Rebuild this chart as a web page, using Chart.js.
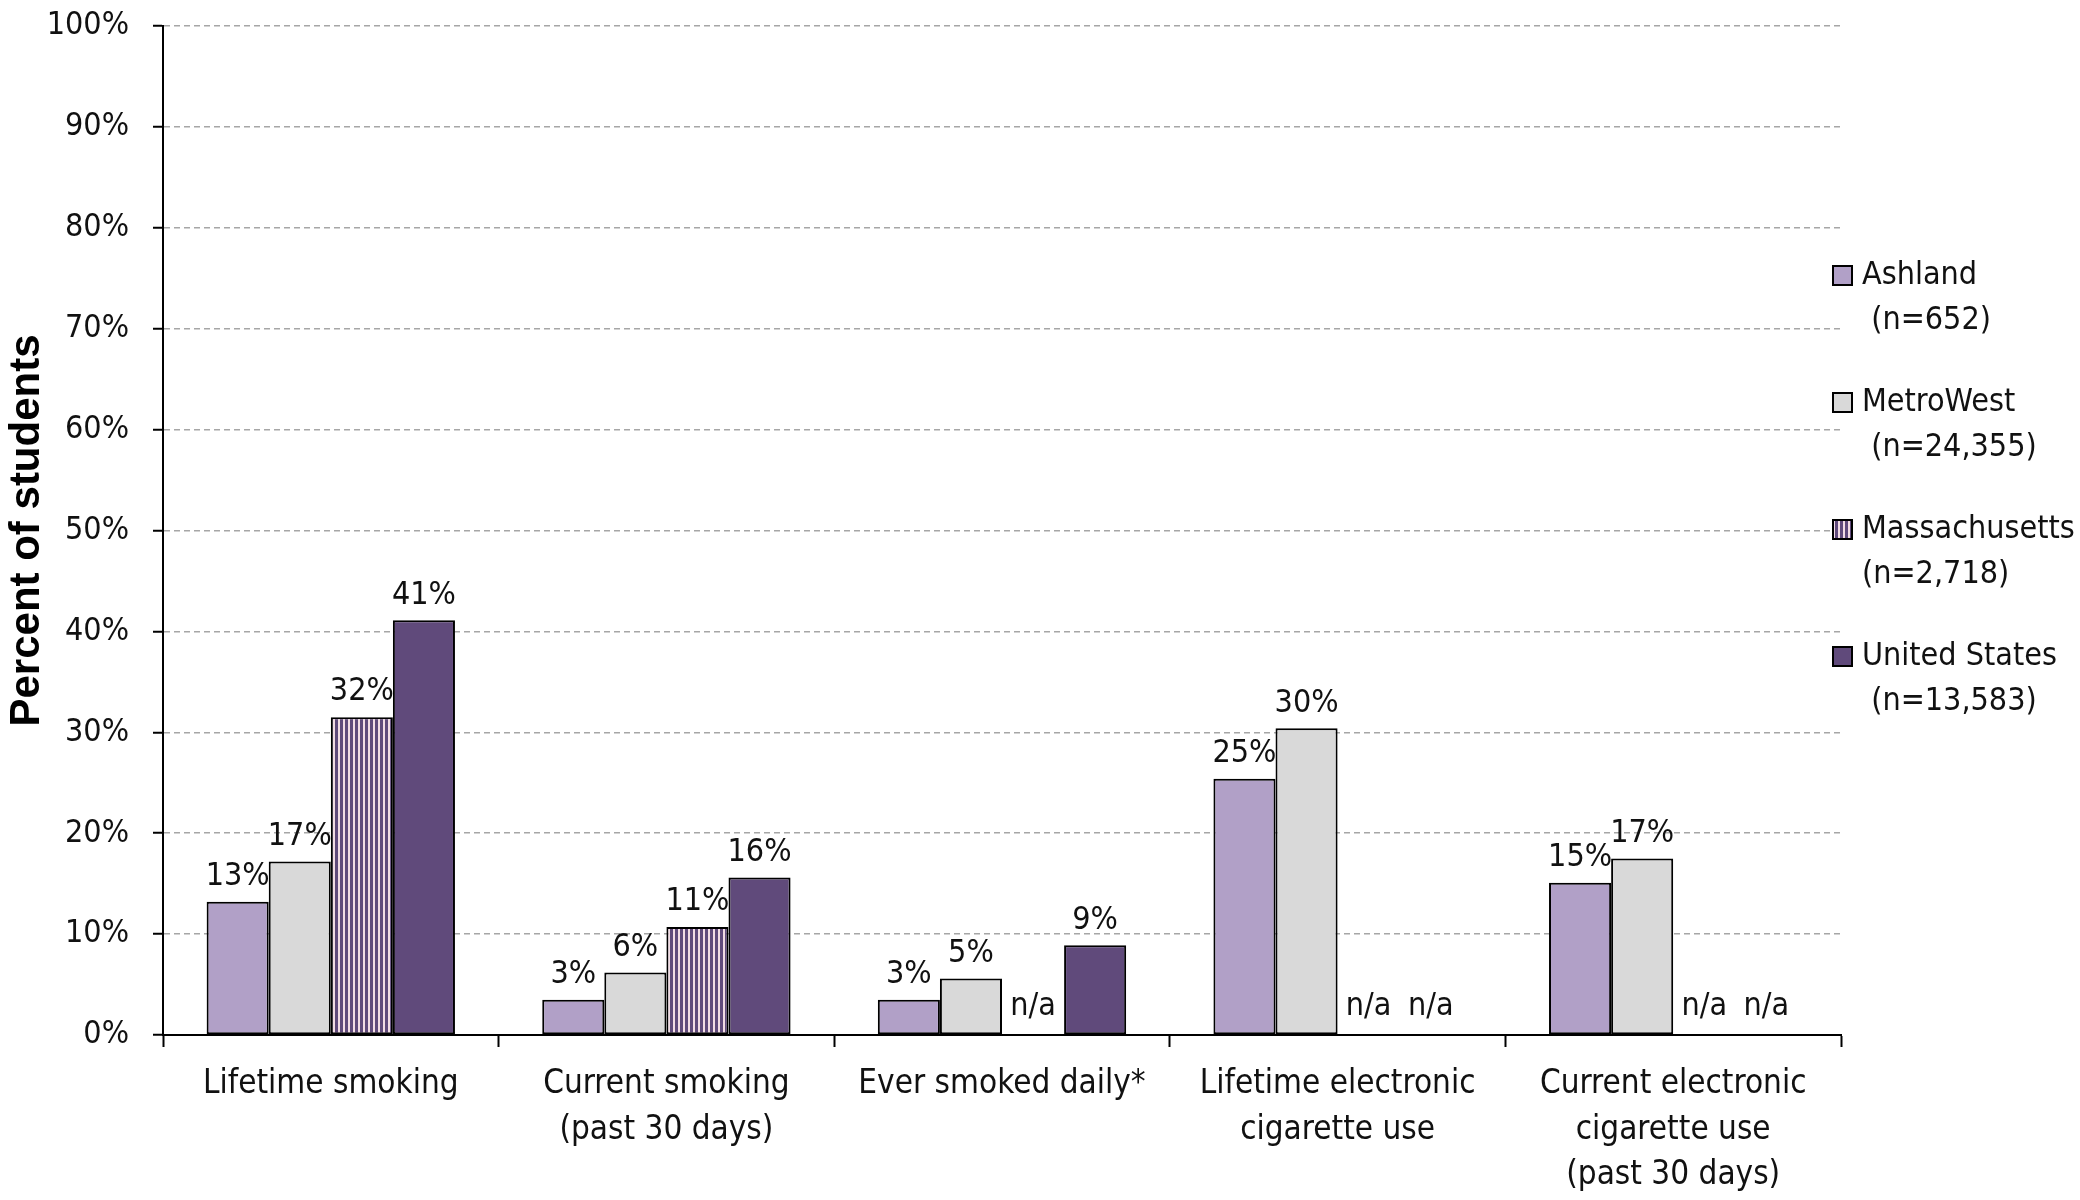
<!DOCTYPE html>
<html>
<head>
<meta charset="utf-8">
<script src="https://cdn.jsdelivr.net/npm/chart.js@4.4.0/dist/chart.umd.min.js"></script>
<style>
  html, body { margin: 0; padding: 0; background: #fff; }
  #wrap { width: 2080px; height: 1200px; }
</style>
</head>
<body>
<div id="wrap"><canvas id="chart" width="2080" height="1200"></canvas></div>
<script>
const categories = [
    ["Lifetime smoking"],
    ["Current smoking", "(past 30 days)"],
    ["Ever smoked daily*"],
    ["Lifetime electronic", "cigarette use"],
    ["Current electronic", "cigarette use", "(past 30 days)"]
];
const seriesNames = ["Ashland", "MetroWest", "Massachusetts", "United States"];
const seriesNotes = [" (n=652)", " (n=24,355)", "(n=2,718)", " (n=13,583)"];

// null = n/a
const ashland       = [13.2, 3.5, 3.5, 25.4, 15.1];
const metroWest     = [17.2, 6.2, 5.6, 30.4, 17.5];
const massachusetts = [31.5, 10.7, null, null, null];
const unitedStates  = [41.1, 15.6, 8.9, null, null];

const ashlandLabels       = ["13%", "3%", "3%", "25%", "15%"];
const metroWestLabels     = ["17%", "6%", "5%", "30%", "17%"];
const massachusettsLabels = ["32%", "11%", "n/a", "n/a", "n/a"];
const unitedStatesLabels  = ["41%", "16%", "9%", "n/a", "n/a"];

const yTicks = [0, 10, 20, 30, 40, 50, 60, 70, 80, 90, 100];

const FONT = "'Liberation Sans Narrow', 'Arial Narrow', 'DejaVu Sans Condensed', sans-serif";

function stripePattern() {
    const c = document.createElement("canvas");
    c.width = 5; c.height = 10;
    const g = c.getContext("2d");
    g.fillStyle = "#F2DCE4";
    g.fillRect(0, 0, 5, 10);
    g.fillStyle = "#604A7B";
    g.fillRect(0, 0, 3, 10);
    return g.createPattern(c, "repeat");
}
const stripes = stripePattern();
const colors = ["#B1A0C7", "#D9D9D9", stripes, "#604A7B"];
const allValues = [ashland, metroWest, massachusetts, unitedStates];
const allLabels = [ashlandLabels, metroWestLabels, massachusettsLabels, unitedStatesLabels];

const barLabels = {
    id: "barLabels",
    afterDatasetsDraw(chart) {
        const ctx = chart.ctx;
        const base = chart.scales.y.getPixelForValue(0);
        ctx.save();
        ctx.font = `32px ${FONT}`;
        ctx.fillStyle = "#111";
        ctx.textAlign = "center";
        ctx.textBaseline = "bottom";
        chart.data.datasets.forEach((ds, di) => {
            const meta = chart.getDatasetMeta(di);
            meta.data.forEach((bar, i) => {
                const txt = allLabels[di][i];
                if (ds.data[i] == null) {
                    ctx.fillText(txt, bar.x, base - 12);
                } else {
                    ctx.fillText(txt, bar.x, bar.y - 9);
                }
            });
        });
        ctx.restore();
    }
};

const sideLegend = {
    id: "sideLegend",
    afterDraw(chart) {
        const ctx = chart.ctx;
        ctx.save();
        ctx.font = `32px ${FONT}`;
        ctx.textBaseline = "middle";
        ctx.textAlign = "left";
        seriesNames.forEach((name, i) => {
            const y = 276 + i * 127;
            ctx.fillStyle = colors[i];
            ctx.fillRect(1833, y - 10, 19, 19);
            ctx.strokeStyle = "#000";
            ctx.lineWidth = 2;
            ctx.strokeRect(1833, y - 10, 19, 19);
            ctx.fillStyle = "#111";
            ctx.fillText(name, 1862, y);
            ctx.fillText(seriesNotes[i], 1862, y + 45);
        });
        ctx.restore();
    }
};

new Chart(document.getElementById("chart").getContext("2d"), {
    type: "bar",
    data: {
        labels: categories,
        datasets: seriesNames.map((name, i) => ({
            label: name,
            data: allValues[i],
            backgroundColor: colors[i],
            borderColor: "#000",
            borderWidth: 2,
            borderSkipped: false,
            categoryPercentage: 0.74,
            barPercentage: 1.0
        }))
    },
    options: {
        responsive: false,
        animation: false,
        layout: { padding: { top: 26, right: 239, left: 0, bottom: 0 } },
        plugins: {
            legend: { display: false },
            tooltip: { enabled: false }
        },
        scales: {
            x: {
                afterFit(scale) { scale.height = 165; },
                border: { color: "#000", width: 2 },
                grid: {
                    offset: true,
                    drawOnChartArea: false,
                    drawTicks: true,
                    tickLength: 12,
                    tickColor: "#000",
                    tickWidth: 2
                },
                ticks: {
                    color: "#111",
                    padding: 15,
                    maxRotation: 0,
                    autoSkip: false,
                    font: { family: FONT, size: 33, lineHeight: 1.38 }
                }
            },
            y: {
                min: 0,
                max: 100,
                afterFit(scale) {
                    scale.width = 163;
                    scale.paddingTop = 0;
                    scale.paddingBottom = 0;
                },
                afterBuildTicks(scale) { scale.ticks = yTicks.map(v => ({ value: v })); },
                border: { color: "#000", width: 2, dash: [6, 4] },
                grid: {
                    color: "#A6A6A6",
                    lineWidth: 1.5,
                    tickBorderDash: [],
                    tickColor: "#000",
                    tickWidth: 2,
                    tickLength: 10
                },
                ticks: {
                    color: "#111",
                    padding: 24,
                    font: { family: FONT, size: 32 },
                    callback: v => v + "%"
                },
                title: {
                    display: true,
                    text: "Percent of students",
                    color: "#000",
                    padding: { top: 2, bottom: 0 },
                    font: { family: "'Liberation Sans', Arial, sans-serif", size: 42, weight: "bold" }
                }
            }
        }
    },
    plugins: [barLabels, sideLegend]
});
</script>
</body>
</html>
